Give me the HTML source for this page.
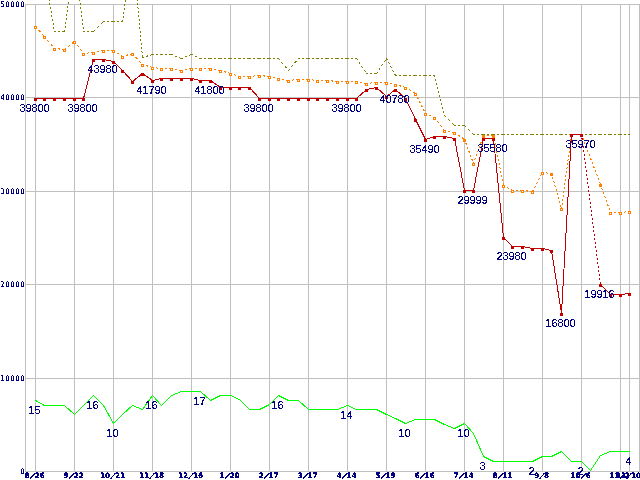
<!DOCTYPE html>
<html><head><meta charset="utf-8"><style>
html,body{margin:0;padding:0;background:#fff;width:640px;height:480px;overflow:hidden}
svg{display:block}
</style></head><body>
<svg width="640" height="480" viewBox="0 0 640 480">
<defs><filter id="crisp" x="-5%" y="-20%" width="110%" height="140%"><feComponentTransfer><feFuncA type="discrete" tableValues="0 0 1 1 1"/></feComponentTransfer></filter><filter id="crisp2" x="-5%" y="-20%" width="110%" height="140%"><feComponentTransfer><feFuncA type="discrete" tableValues="0 0 0 1 1 1 1 1"/></feComponentTransfer></filter><filter id="crisp3" x="-5%" y="-20%" width="110%" height="140%"><feComponentTransfer><feFuncA type="discrete" tableValues="0 1 1 1"/></feComponentTransfer></filter></defs>
<rect width="640" height="480" fill="#fff"/>
<g stroke="#c0c0c0" stroke-width="1"><line x1="25.5" y1="4" x2="25.5" y2="472" /><line x1="35.5" y1="4" x2="35.5" y2="472" /><line x1="74.5" y1="4" x2="74.5" y2="472" /><line x1="113.5" y1="4" x2="113.5" y2="472" /><line x1="152.5" y1="4" x2="152.5" y2="472" /><line x1="191.5" y1="4" x2="191.5" y2="472" /><line x1="230.5" y1="4" x2="230.5" y2="472" /><line x1="269.5" y1="4" x2="269.5" y2="472" /><line x1="308.5" y1="4" x2="308.5" y2="472" /><line x1="347.5" y1="4" x2="347.5" y2="472" /><line x1="386.5" y1="4" x2="386.5" y2="472" /><line x1="425.5" y1="4" x2="425.5" y2="472" /><line x1="464.5" y1="4" x2="464.5" y2="472" /><line x1="503.5" y1="4" x2="503.5" y2="472" /><line x1="542.5" y1="4" x2="542.5" y2="472" /><line x1="581.5" y1="4" x2="581.5" y2="472" /><line x1="620.5" y1="4" x2="620.5" y2="472" /><line x1="629.5" y1="4" x2="629.5" y2="472" /><line x1="639.5" y1="4" x2="639.5" y2="472" /><line x1="25" y1="4.5" x2="640" y2="4.5" /><line x1="25" y1="97.5" x2="640" y2="97.5" /><line x1="25" y1="191.5" x2="640" y2="191.5" /><line x1="25" y1="284.5" x2="640" y2="284.5" /><line x1="25" y1="378.5" x2="640" y2="378.5" /><line x1="25" y1="471.5" x2="640" y2="471.5" /></g>
<g shape-rendering="crispEdges"><g stroke-width="1"><line x1="35.000" y1="-29.556" x2="45.000" y2="-28.444" stroke="#808000" stroke-dasharray="2.0123 2.0123" /><line x1="44.417" y1="-29.000" x2="54.583" y2="32.000" stroke="#808000" stroke-dasharray="2.0276 2.0276" /><line x1="54.000" y1="31.500" x2="65.000" y2="31.500" stroke="#808000" stroke-dasharray="2.0000 2.0000" /><line x1="64.434" y1="32.000" x2="74.566" y2="-45.000" stroke="#808000" stroke-dasharray="2.0172 2.0172" /><line x1="74.441" y1="-45.000" x2="83.559" y2="32.000" stroke="#808000" stroke-dasharray="2.0140 2.0140" /><line x1="83.000" y1="31.500" x2="94.000" y2="31.500" stroke="#808000" stroke-dasharray="2.0000 2.0000" /><line x1="93.000" y1="32.000" x2="104.000" y2="21.000" stroke="#808000" stroke-dasharray="2.8284 2.8284" /><line x1="103.000" y1="21.500" x2="114.000" y2="21.500" stroke="#808000" stroke-dasharray="2.0000 2.0000" /><line x1="113.000" y1="21.500" x2="123.000" y2="21.500" stroke="#808000" stroke-dasharray="2.0000 2.0000" /><line x1="122.432" y1="22.000" x2="132.568" y2="-53.000" stroke="#808000" stroke-dasharray="2.0182 2.0182" /><line x1="132.455" y1="-53.000" x2="142.545" y2="58.000" stroke="#808000" stroke-dasharray="2.0082 2.0082" /><line x1="142.000" y1="57.650" x2="153.000" y2="54.350" stroke="#808000" stroke-dasharray="2.0881 2.0881" /><line x1="152.000" y1="54.500" x2="162.000" y2="54.500" stroke="#808000" stroke-dasharray="2.0000 2.0000" /><line x1="161.000" y1="54.500" x2="172.000" y2="54.500" stroke="#808000" stroke-dasharray="2.0000 2.0000" /><line x1="171.000" y1="54.300" x2="182.000" y2="58.700" stroke="#808000" stroke-dasharray="2.1541 2.1541" /><line x1="181.000" y1="58.700" x2="192.000" y2="54.300" stroke="#808000" stroke-dasharray="2.1541 2.1541" /><line x1="191.000" y1="54.278" x2="201.000" y2="58.722" stroke="#808000" stroke-dasharray="2.1886 2.1886" /><line x1="200.000" y1="58.500" x2="211.000" y2="58.500" stroke="#808000" stroke-dasharray="2.0000 2.0000" /><line x1="210.000" y1="58.500" x2="221.000" y2="58.500" stroke="#808000" stroke-dasharray="2.0000 2.0000" /><line x1="220.000" y1="58.500" x2="231.000" y2="58.500" stroke="#808000" stroke-dasharray="2.0000 2.0000" /><line x1="230.000" y1="58.500" x2="240.000" y2="58.500" stroke="#808000" stroke-dasharray="2.0000 2.0000" /><line x1="239.000" y1="58.500" x2="250.000" y2="58.500" stroke="#808000" stroke-dasharray="2.0000 2.0000" /><line x1="249.000" y1="58.500" x2="260.000" y2="58.500" stroke="#808000" stroke-dasharray="2.0000 2.0000" /><line x1="259.000" y1="58.500" x2="270.000" y2="58.500" stroke="#808000" stroke-dasharray="2.0000 2.0000" /><line x1="269.000" y1="58.500" x2="279.000" y2="58.500" stroke="#808000" stroke-dasharray="2.0000 2.0000" /><line x1="278.083" y1="58.000" x2="288.917" y2="71.000" stroke="#808000" stroke-dasharray="2.6034 2.6034" /><line x1="288.083" y1="71.000" x2="298.917" y2="58.000" stroke="#808000" stroke-dasharray="2.6034 2.6034" /><line x1="298.000" y1="58.500" x2="309.000" y2="58.500" stroke="#808000" stroke-dasharray="2.0000 2.0000" /><line x1="308.000" y1="58.500" x2="318.000" y2="58.500" stroke="#808000" stroke-dasharray="2.0000 2.0000" /><line x1="317.000" y1="58.500" x2="328.000" y2="58.500" stroke="#808000" stroke-dasharray="2.0000 2.0000" /><line x1="327.000" y1="58.500" x2="338.000" y2="58.500" stroke="#808000" stroke-dasharray="2.0000 2.0000" /><line x1="337.000" y1="58.500" x2="348.000" y2="58.500" stroke="#808000" stroke-dasharray="2.0000 2.0000" /><line x1="347.000" y1="58.500" x2="357.000" y2="58.500" stroke="#808000" stroke-dasharray="2.0000 2.0000" /><line x1="356.167" y1="58.000" x2="366.833" y2="74.000" stroke="#808000" stroke-dasharray="2.4037 2.4037" /><line x1="366.000" y1="73.500" x2="377.000" y2="73.500" stroke="#808000" stroke-dasharray="2.0000 2.0000" /><line x1="376.167" y1="74.000" x2="386.833" y2="58.000" stroke="#808000" stroke-dasharray="2.4037 2.4037" /><line x1="386.235" y1="58.000" x2="395.765" y2="76.000" stroke="#808000" stroke-dasharray="2.2630 2.2630" /><line x1="395.000" y1="75.500" x2="406.000" y2="75.500" stroke="#808000" stroke-dasharray="2.0000 2.0000" /><line x1="405.000" y1="75.500" x2="416.000" y2="75.500" stroke="#808000" stroke-dasharray="2.0000 2.0000" /><line x1="415.000" y1="75.500" x2="426.000" y2="75.500" stroke="#808000" stroke-dasharray="2.0000 2.0000" /><line x1="425.000" y1="75.500" x2="435.000" y2="75.500" stroke="#808000" stroke-dasharray="2.0000 2.0000" /><line x1="434.375" y1="75.000" x2="444.625" y2="116.000" stroke="#808000" stroke-dasharray="2.0616 2.0616" /><line x1="444.000" y1="115.000" x2="455.000" y2="126.000" stroke="#808000" stroke-dasharray="2.8284 2.8284" /><line x1="454.000" y1="125.500" x2="465.000" y2="125.500" stroke="#808000" stroke-dasharray="2.0000 2.0000" /><line x1="464.000" y1="125.000" x2="474.000" y2="135.000" stroke="#808000" stroke-dasharray="2.8284 2.8284" /><line x1="473.000" y1="134.500" x2="484.000" y2="134.500" stroke="#808000" stroke-dasharray="2.0000 2.0000" /><line x1="483.000" y1="134.500" x2="494.000" y2="134.500" stroke="#808000" stroke-dasharray="2.0000 2.0000" /><line x1="493.000" y1="134.500" x2="504.000" y2="134.500" stroke="#808000" stroke-dasharray="2.0000 2.0000" /><line x1="503.000" y1="134.500" x2="513.000" y2="134.500" stroke="#808000" stroke-dasharray="2.0000 2.0000" /><line x1="512.000" y1="134.500" x2="523.000" y2="134.500" stroke="#808000" stroke-dasharray="2.0000 2.0000" /><line x1="522.000" y1="134.500" x2="533.000" y2="134.500" stroke="#808000" stroke-dasharray="2.0000 2.0000" /><line x1="532.000" y1="134.500" x2="543.000" y2="134.500" stroke="#808000" stroke-dasharray="2.0000 2.0000" /><line x1="542.000" y1="134.500" x2="552.000" y2="134.500" stroke="#808000" stroke-dasharray="2.0000 2.0000" /><line x1="551.000" y1="134.500" x2="562.000" y2="134.500" stroke="#808000" stroke-dasharray="2.0000 2.0000" /><line x1="561.000" y1="134.500" x2="572.000" y2="134.500" stroke="#808000" stroke-dasharray="2.0000 2.0000" /><line x1="571.000" y1="134.500" x2="582.000" y2="134.500" stroke="#808000" stroke-dasharray="2.0000 2.0000" /><line x1="581.000" y1="134.500" x2="591.000" y2="134.500" stroke="#808000" stroke-dasharray="2.0000 2.0000" /><line x1="590.000" y1="134.500" x2="601.000" y2="134.500" stroke="#808000" stroke-dasharray="2.0000 2.0000" /><line x1="600.000" y1="134.500" x2="611.000" y2="134.500" stroke="#808000" stroke-dasharray="2.0000 2.0000" /><line x1="610.000" y1="134.500" x2="621.000" y2="134.500" stroke="#808000" stroke-dasharray="2.0000 2.0000" /><line x1="620.000" y1="134.500" x2="630.000" y2="134.500" stroke="#808000" stroke-dasharray="2.0000 2.0000" /></g><g stroke-width="1"><line x1="35.050" y1="26.000" x2="44.950" y2="37.000" stroke="#ff8000" stroke-dasharray="2.6907 2.6907" /><line x1="44.083" y1="36.000" x2="54.917" y2="49.000" stroke="#ff8000" stroke-dasharray="2.6034 2.6034" /><line x1="54.000" y1="48.450" x2="65.000" y2="49.550" stroke="#ff8000" stroke-dasharray="2.0100 2.0100" /><line x1="64.000" y1="49.900" x2="75.000" y2="41.100" stroke="#ff8000" stroke-dasharray="2.5612 2.5612" /><line x1="74.125" y1="41.000" x2="83.875" y2="54.000" stroke="#ff8000" stroke-dasharray="2.5000 2.5000" /><line x1="83.000" y1="53.550" x2="94.000" y2="52.450" stroke="#ff8000" stroke-dasharray="2.0100 2.0100" /><line x1="93.000" y1="52.600" x2="104.000" y2="50.400" stroke="#ff8000" stroke-dasharray="2.0396 2.0396" /><line x1="103.000" y1="50.500" x2="114.000" y2="50.500" stroke="#ff8000" stroke-dasharray="2.0000 2.0000" /><line x1="113.000" y1="50.167" x2="123.000" y2="56.833" stroke="#ff8000" stroke-dasharray="2.4037 2.4037" /><line x1="122.000" y1="56.650" x2="133.000" y2="53.350" stroke="#ff8000" stroke-dasharray="2.0881 2.0881" /><line x1="132.045" y1="53.000" x2="142.955" y2="65.000" stroke="#ff8000" stroke-dasharray="2.7029 2.7029" /><line x1="142.000" y1="64.350" x2="153.000" y2="67.650" stroke="#ff8000" stroke-dasharray="2.0881 2.0881" /><line x1="152.000" y1="67.444" x2="162.000" y2="68.556" stroke="#ff8000" stroke-dasharray="2.0123 2.0123" /><line x1="161.000" y1="68.500" x2="172.000" y2="68.500" stroke="#ff8000" stroke-dasharray="2.0000 2.0000" /><line x1="171.000" y1="68.400" x2="182.000" y2="70.600" stroke="#ff8000" stroke-dasharray="2.0396 2.0396" /><line x1="181.000" y1="70.600" x2="192.000" y2="68.400" stroke="#ff8000" stroke-dasharray="2.0396 2.0396" /><line x1="191.000" y1="68.500" x2="201.000" y2="68.500" stroke="#ff8000" stroke-dasharray="2.0000 2.0000" /><line x1="200.000" y1="68.500" x2="211.000" y2="68.500" stroke="#ff8000" stroke-dasharray="2.0000 2.0000" /><line x1="210.000" y1="68.400" x2="221.000" y2="70.600" stroke="#ff8000" stroke-dasharray="2.0396 2.0396" /><line x1="220.000" y1="70.350" x2="231.000" y2="73.650" stroke="#ff8000" stroke-dasharray="2.0881 2.0881" /><line x1="230.000" y1="73.333" x2="240.000" y2="76.667" stroke="#ff8000" stroke-dasharray="2.1082 2.1082" /><line x1="239.000" y1="76.500" x2="250.000" y2="76.500" stroke="#ff8000" stroke-dasharray="2.0000 2.0000" /><line x1="249.000" y1="76.550" x2="260.000" y2="75.450" stroke="#ff8000" stroke-dasharray="2.0100 2.0100" /><line x1="259.000" y1="75.450" x2="270.000" y2="76.550" stroke="#ff8000" stroke-dasharray="2.0100 2.0100" /><line x1="269.000" y1="76.389" x2="279.000" y2="78.611" stroke="#ff8000" stroke-dasharray="2.0488 2.0488" /><line x1="278.000" y1="78.400" x2="289.000" y2="80.600" stroke="#ff8000" stroke-dasharray="2.0396 2.0396" /><line x1="288.000" y1="80.550" x2="299.000" y2="79.450" stroke="#ff8000" stroke-dasharray="2.0100 2.0100" /><line x1="298.000" y1="79.500" x2="309.000" y2="79.500" stroke="#ff8000" stroke-dasharray="2.0000 2.0000" /><line x1="308.000" y1="79.444" x2="318.000" y2="80.556" stroke="#ff8000" stroke-dasharray="2.0123 2.0123" /><line x1="317.000" y1="80.500" x2="328.000" y2="80.500" stroke="#ff8000" stroke-dasharray="2.0000 2.0000" /><line x1="327.000" y1="80.450" x2="338.000" y2="81.550" stroke="#ff8000" stroke-dasharray="2.0100 2.0100" /><line x1="337.000" y1="81.500" x2="348.000" y2="81.500" stroke="#ff8000" stroke-dasharray="2.0000 2.0000" /><line x1="347.000" y1="81.500" x2="357.000" y2="81.500" stroke="#ff8000" stroke-dasharray="2.0000 2.0000" /><line x1="356.000" y1="81.400" x2="367.000" y2="83.600" stroke="#ff8000" stroke-dasharray="2.0396 2.0396" /><line x1="366.000" y1="83.550" x2="377.000" y2="82.450" stroke="#ff8000" stroke-dasharray="2.0100 2.0100" /><line x1="376.000" y1="82.500" x2="387.000" y2="82.500" stroke="#ff8000" stroke-dasharray="2.0000 2.0000" /><line x1="386.000" y1="82.389" x2="396.000" y2="84.611" stroke="#ff8000" stroke-dasharray="2.0488 2.0488" /><line x1="395.000" y1="84.350" x2="406.000" y2="87.650" stroke="#ff8000" stroke-dasharray="2.0881 2.0881" /><line x1="405.000" y1="87.200" x2="416.000" y2="93.800" stroke="#ff8000" stroke-dasharray="2.3324 2.3324" /><line x1="415.250" y1="93.000" x2="425.750" y2="114.000" stroke="#ff8000" stroke-dasharray="2.2361 2.2361" /><line x1="425.000" y1="113.278" x2="435.000" y2="117.722" stroke="#ff8000" stroke-dasharray="2.1886 2.1886" /><line x1="434.115" y1="117.000" x2="444.885" y2="131.000" stroke="#ff8000" stroke-dasharray="2.5233 2.5233" /><line x1="444.000" y1="130.400" x2="455.000" y2="132.600" stroke="#ff8000" stroke-dasharray="2.0396 2.0396" /><line x1="454.000" y1="132.150" x2="465.000" y2="139.850" stroke="#ff8000" stroke-dasharray="2.4413 2.4413" /><line x1="464.312" y1="139.000" x2="473.688" y2="164.000" stroke="#ff8000" stroke-dasharray="2.1360 2.1360" /><line x1="473.321" y1="164.000" x2="483.679" y2="135.000" stroke="#ff8000" stroke-dasharray="2.1237 2.1237" /><line x1="483.000" y1="135.500" x2="494.000" y2="135.500" stroke="#ff8000" stroke-dasharray="2.0000 2.0000" /><line x1="493.400" y1="135.000" x2="503.600" y2="186.000" stroke="#ff8000" stroke-dasharray="2.0396 2.0396" /><line x1="503.000" y1="185.222" x2="513.000" y2="190.778" stroke="#ff8000" stroke-dasharray="2.2879 2.2879" /><line x1="512.000" y1="190.500" x2="523.000" y2="190.500" stroke="#ff8000" stroke-dasharray="2.0000 2.0000" /><line x1="522.000" y1="190.450" x2="533.000" y2="191.550" stroke="#ff8000" stroke-dasharray="2.0100 2.0100" /><line x1="532.237" y1="192.000" x2="542.763" y2="172.000" stroke="#ff8000" stroke-dasharray="2.2601 2.2601" /><line x1="542.000" y1="172.444" x2="552.000" y2="173.556" stroke="#ff8000" stroke-dasharray="2.0123 2.0123" /><line x1="551.357" y1="173.000" x2="561.643" y2="209.000" stroke="#ff8000" stroke-dasharray="2.0800 2.0800" /><line x1="561.432" y1="209.000" x2="571.568" y2="134.000" stroke="#ff8000" stroke-dasharray="2.0182 2.0182" /><line x1="571.000" y1="134.500" x2="582.000" y2="134.500" stroke="#ff8000" stroke-dasharray="2.0000 2.0000" /><line x1="581.310" y1="134.000" x2="600.690" y2="185.000" stroke="#ff8000" stroke-dasharray="2.1395 2.1395" /><line x1="600.321" y1="184.000" x2="610.679" y2="213.000" stroke="#ff8000" stroke-dasharray="2.1237 2.1237" /><line x1="610.000" y1="212.500" x2="621.000" y2="212.500" stroke="#ff8000" stroke-dasharray="2.0000 2.0000" /><line x1="620.000" y1="212.556" x2="630.000" y2="211.444" stroke="#ff8000" stroke-dasharray="2.0123 2.0123" /></g><polyline points="35.5,98.5 44.5,98.5 54.5,98.5 64.5,98.5 74.5,98.5 83.5,98.5 93.5,59.5 103.5,59.5 113.5,61.5 122.5,70.5 132.5,81.5 142.5,73.5 152.5,80.5 161.5,78.5 171.5,78.5 181.5,78.5 191.5,78.5 200.5,80.5 210.5,80.5 220.5,87.5 230.5,87.5 239.5,87.5 249.5,87.5 259.5,98.5 269.5,98.5 278.5,98.5 288.5,98.5 298.5,98.5 308.5,98.5 317.5,98.5 327.5,98.5 337.5,98.5 347.5,98.5 356.5,98.5 366.5,89.5 376.5,87.5 386.5,96.5 395.5,89.5 405.5,98.5 415.5,119.5 425.5,139.5 434.5,136.5 444.5,136.5 454.5,138.5 464.5,190.5 473.5,190.5 483.5,138.5 493.5,138.5 503.5,237.5 512.5,246.5 522.5,246.5 532.5,248.5 542.5,248.5 551.5,250.5 561.5,313.5 571.5,134.5 581.5,134.5" fill="none" stroke="#c00000" stroke-width="1" /><polyline points="600.5,284.5 610.5,294.5 620.5,294.5 629.5,293.5" fill="none" stroke="#c00000" stroke-width="1" /><g stroke-width="1"><line x1="581.437" y1="134.000" x2="600.563" y2="285.000" stroke="#c00000" stroke-dasharray="2.0160 2.0160" /></g><polyline points="35.5,400.5 44.5,405.5 54.5,405.5 64.5,405.5 74.5,414.5 83.5,405.5 93.5,395.5 103.5,405.5 113.5,423.5 122.5,414.5 132.5,405.5 142.5,409.5 152.5,395.5 161.5,405.5 171.5,395.5 181.5,391.5 191.5,391.5 200.5,391.5 210.5,400.5 220.5,395.5 230.5,395.5 239.5,399.5 249.5,409.5 259.5,409.5 269.5,404.5 278.5,395.5 288.5,400.5 298.5,400.5 308.5,409.5 317.5,409.5 327.5,409.5 337.5,409.5 347.5,405.5 356.5,409.5 366.5,409.5 376.5,409.5 386.5,414.5 395.5,418.5 405.5,423.5 415.5,419.5 425.5,419.5 434.5,419.5 444.5,424.5 454.5,428.5 464.5,423.5 473.5,433.5 483.5,456.5 493.5,461.5 503.5,461.5 512.5,461.5 522.5,461.5 532.5,461.5 542.5,456.5 551.5,456.5 561.5,451.5 571.5,461.5 581.5,461.5 590.5,470.5 600.5,455.5 610.5,451.5 620.5,451.5 629.5,451.5" fill="none" stroke="#00ff00" stroke-width="1" /><rect x="34.5" y="26.5" width="2" height="2" fill="#fff" stroke="#ff8000" stroke-width="1" /><rect x="43.5" y="36.5" width="2" height="2" fill="#fff" stroke="#ff8000" stroke-width="1" /><rect x="53.5" y="48.5" width="2" height="2" fill="#fff" stroke="#ff8000" stroke-width="1" /><rect x="63.5" y="49.5" width="2" height="2" fill="#fff" stroke="#ff8000" stroke-width="1" /><rect x="73.5" y="41.5" width="2" height="2" fill="#fff" stroke="#ff8000" stroke-width="1" /><rect x="82.5" y="53.5" width="2" height="2" fill="#fff" stroke="#ff8000" stroke-width="1" /><rect x="92.5" y="52.5" width="2" height="2" fill="#fff" stroke="#ff8000" stroke-width="1" /><rect x="102.5" y="50.5" width="2" height="2" fill="#fff" stroke="#ff8000" stroke-width="1" /><rect x="112.5" y="50.5" width="2" height="2" fill="#fff" stroke="#ff8000" stroke-width="1" /><rect x="121.5" y="56.5" width="2" height="2" fill="#fff" stroke="#ff8000" stroke-width="1" /><rect x="131.5" y="53.5" width="2" height="2" fill="#fff" stroke="#ff8000" stroke-width="1" /><rect x="141.5" y="64.5" width="2" height="2" fill="#fff" stroke="#ff8000" stroke-width="1" /><rect x="151.5" y="67.5" width="2" height="2" fill="#fff" stroke="#ff8000" stroke-width="1" /><rect x="160.5" y="68.5" width="2" height="2" fill="#fff" stroke="#ff8000" stroke-width="1" /><rect x="170.5" y="68.5" width="2" height="2" fill="#fff" stroke="#ff8000" stroke-width="1" /><rect x="180.5" y="70.5" width="2" height="2" fill="#fff" stroke="#ff8000" stroke-width="1" /><rect x="190.5" y="68.5" width="2" height="2" fill="#fff" stroke="#ff8000" stroke-width="1" /><rect x="199.5" y="68.5" width="2" height="2" fill="#fff" stroke="#ff8000" stroke-width="1" /><rect x="209.5" y="68.5" width="2" height="2" fill="#fff" stroke="#ff8000" stroke-width="1" /><rect x="219.5" y="70.5" width="2" height="2" fill="#fff" stroke="#ff8000" stroke-width="1" /><rect x="229.5" y="73.5" width="2" height="2" fill="#fff" stroke="#ff8000" stroke-width="1" /><rect x="238.5" y="76.5" width="2" height="2" fill="#fff" stroke="#ff8000" stroke-width="1" /><rect x="248.5" y="76.5" width="2" height="2" fill="#fff" stroke="#ff8000" stroke-width="1" /><rect x="258.5" y="75.5" width="2" height="2" fill="#fff" stroke="#ff8000" stroke-width="1" /><rect x="268.5" y="76.5" width="2" height="2" fill="#fff" stroke="#ff8000" stroke-width="1" /><rect x="277.5" y="78.5" width="2" height="2" fill="#fff" stroke="#ff8000" stroke-width="1" /><rect x="287.5" y="80.5" width="2" height="2" fill="#fff" stroke="#ff8000" stroke-width="1" /><rect x="297.5" y="79.5" width="2" height="2" fill="#fff" stroke="#ff8000" stroke-width="1" /><rect x="307.5" y="79.5" width="2" height="2" fill="#fff" stroke="#ff8000" stroke-width="1" /><rect x="316.5" y="80.5" width="2" height="2" fill="#fff" stroke="#ff8000" stroke-width="1" /><rect x="326.5" y="80.5" width="2" height="2" fill="#fff" stroke="#ff8000" stroke-width="1" /><rect x="336.5" y="81.5" width="2" height="2" fill="#fff" stroke="#ff8000" stroke-width="1" /><rect x="346.5" y="81.5" width="2" height="2" fill="#fff" stroke="#ff8000" stroke-width="1" /><rect x="355.5" y="81.5" width="2" height="2" fill="#fff" stroke="#ff8000" stroke-width="1" /><rect x="365.5" y="83.5" width="2" height="2" fill="#fff" stroke="#ff8000" stroke-width="1" /><rect x="375.5" y="82.5" width="2" height="2" fill="#fff" stroke="#ff8000" stroke-width="1" /><rect x="385.5" y="82.5" width="2" height="2" fill="#fff" stroke="#ff8000" stroke-width="1" /><rect x="394.5" y="84.5" width="2" height="2" fill="#fff" stroke="#ff8000" stroke-width="1" /><rect x="404.5" y="87.5" width="2" height="2" fill="#fff" stroke="#ff8000" stroke-width="1" /><rect x="414.5" y="93.5" width="2" height="2" fill="#fff" stroke="#ff8000" stroke-width="1" /><rect x="424.5" y="113.5" width="2" height="2" fill="#fff" stroke="#ff8000" stroke-width="1" /><rect x="433.5" y="117.5" width="2" height="2" fill="#fff" stroke="#ff8000" stroke-width="1" /><rect x="443.5" y="130.5" width="2" height="2" fill="#fff" stroke="#ff8000" stroke-width="1" /><rect x="453.5" y="132.5" width="2" height="2" fill="#fff" stroke="#ff8000" stroke-width="1" /><rect x="463" y="139" width="3" height="3" fill="#ff8000" /><rect x="472.5" y="163.5" width="2" height="2" fill="#fff" stroke="#ff8000" stroke-width="1" /><rect x="482" y="135" width="3" height="3" fill="#ff8000" /><rect x="492" y="135" width="3" height="3" fill="#ff8000" /><rect x="502.5" y="185.5" width="2" height="2" fill="#fff" stroke="#ff8000" stroke-width="1" /><rect x="511.5" y="190.5" width="2" height="2" fill="#fff" stroke="#ff8000" stroke-width="1" /><rect x="521.5" y="190.5" width="2" height="2" fill="#fff" stroke="#ff8000" stroke-width="1" /><rect x="531.5" y="191.5" width="2" height="2" fill="#fff" stroke="#ff8000" stroke-width="1" /><rect x="541.5" y="172.5" width="2" height="2" fill="#fff" stroke="#ff8000" stroke-width="1" /><rect x="550" y="173" width="3" height="3" fill="#ff8000" /><rect x="560.5" y="208.5" width="2" height="2" fill="#fff" stroke="#ff8000" stroke-width="1" /><rect x="570.5" y="134.5" width="2" height="2" fill="#fff" stroke="#ff8000" stroke-width="1" /><rect x="580.5" y="134.5" width="2" height="2" fill="#fff" stroke="#ff8000" stroke-width="1" /><rect x="599" y="184" width="3" height="3" fill="#ff8000" /><rect x="609.5" y="212.5" width="2" height="2" fill="#fff" stroke="#ff8000" stroke-width="1" /><rect x="619.5" y="212.5" width="2" height="2" fill="#fff" stroke="#ff8000" stroke-width="1" /><rect x="628.5" y="211.5" width="2" height="2" fill="#fff" stroke="#ff8000" stroke-width="1" /><rect x="34" y="98" width="3" height="3" fill="#c00000" /><rect x="43" y="98" width="3" height="3" fill="#c00000" /><rect x="53" y="98" width="3" height="3" fill="#c00000" /><rect x="63" y="98" width="3" height="3" fill="#c00000" /><rect x="73" y="98" width="3" height="3" fill="#c00000" /><rect x="82" y="98" width="3" height="3" fill="#c00000" /><rect x="92" y="59" width="3" height="3" fill="#c00000" /><rect x="102" y="59" width="3" height="3" fill="#c00000" /><rect x="112" y="61" width="3" height="3" fill="#c00000" /><rect x="121" y="70" width="3" height="3" fill="#c00000" /><rect x="131" y="81" width="3" height="3" fill="#c00000" /><rect x="141" y="73" width="3" height="3" fill="#c00000" /><rect x="151" y="80" width="3" height="3" fill="#c00000" /><rect x="160" y="78" width="3" height="3" fill="#c00000" /><rect x="170" y="78" width="3" height="3" fill="#c00000" /><rect x="180" y="78" width="3" height="3" fill="#c00000" /><rect x="190" y="78" width="3" height="3" fill="#c00000" /><rect x="199" y="80" width="3" height="3" fill="#c00000" /><rect x="209" y="80" width="3" height="3" fill="#c00000" /><rect x="219" y="87" width="3" height="3" fill="#c00000" /><rect x="229" y="87" width="3" height="3" fill="#c00000" /><rect x="238" y="87" width="3" height="3" fill="#c00000" /><rect x="248" y="87" width="3" height="3" fill="#c00000" /><rect x="258" y="98" width="3" height="3" fill="#c00000" /><rect x="268" y="98" width="3" height="3" fill="#c00000" /><rect x="277" y="98" width="3" height="3" fill="#c00000" /><rect x="287" y="98" width="3" height="3" fill="#c00000" /><rect x="297" y="98" width="3" height="3" fill="#c00000" /><rect x="307" y="98" width="3" height="3" fill="#c00000" /><rect x="316" y="98" width="3" height="3" fill="#c00000" /><rect x="326" y="98" width="3" height="3" fill="#c00000" /><rect x="336" y="98" width="3" height="3" fill="#c00000" /><rect x="346" y="98" width="3" height="3" fill="#c00000" /><rect x="355" y="98" width="3" height="3" fill="#c00000" /><rect x="365" y="89" width="3" height="3" fill="#c00000" /><rect x="375" y="87" width="3" height="3" fill="#c00000" /><rect x="385" y="96" width="3" height="3" fill="#c00000" /><rect x="394" y="89" width="3" height="3" fill="#c00000" /><rect x="404" y="98" width="3" height="3" fill="#c00000" /><rect x="414" y="119" width="3" height="3" fill="#c00000" /><rect x="424" y="139" width="3" height="3" fill="#c00000" /><rect x="433" y="136" width="3" height="3" fill="#c00000" /><rect x="443" y="136" width="3" height="3" fill="#c00000" /><rect x="453" y="138" width="3" height="3" fill="#c00000" /><rect x="463" y="190" width="3" height="3" fill="#c00000" /><rect x="472" y="190" width="3" height="3" fill="#c00000" /><rect x="482" y="138" width="3" height="3" fill="#c00000" /><rect x="492" y="138" width="3" height="3" fill="#c00000" /><rect x="502" y="237" width="3" height="3" fill="#c00000" /><rect x="511" y="246" width="3" height="3" fill="#c00000" /><rect x="521" y="246" width="3" height="3" fill="#c00000" /><rect x="531" y="248" width="3" height="3" fill="#c00000" /><rect x="541" y="248" width="3" height="3" fill="#c00000" /><rect x="550" y="250" width="3" height="3" fill="#c00000" /><rect x="560" y="313" width="3" height="3" fill="#c00000" /><rect x="570" y="134" width="3" height="3" fill="#c00000" /><rect x="580" y="134" width="3" height="3" fill="#c00000" /><rect x="599" y="284" width="3" height="3" fill="#c00000" /><rect x="609" y="294" width="3" height="3" fill="#c00000" /><rect x="619" y="294" width="3" height="3" fill="#c00000" /><rect x="628" y="293" width="3" height="3" fill="#c00000" /></g>
<g font-family="Liberation Sans, sans-serif" font-size="11" letter-spacing="-0.116" fill="#000080" filter="url(#crisp2)"><text x="34.5" y="112" text-anchor="middle">39800</text><text x="82.5" y="112" text-anchor="middle">39800</text><text x="102.5" y="73" text-anchor="middle">43980</text><text x="151.5" y="94" text-anchor="middle">41790</text><text x="209.5" y="94" text-anchor="middle">41800</text><text x="258.5" y="112" text-anchor="middle">39800</text><text x="346.5" y="112" text-anchor="middle">39800</text><text x="394.5" y="103" text-anchor="middle">40780</text><text x="424.5" y="153" text-anchor="middle">35490</text><text x="472.5" y="204" text-anchor="middle">29999</text><text x="492.5" y="152" text-anchor="middle">35580</text><text x="511.5" y="260" text-anchor="middle">23980</text><text x="560.5" y="327" text-anchor="middle">16800</text><text x="580.5" y="148" text-anchor="middle">35970</text><text x="599.5" y="298" text-anchor="middle">19916</text><text x="34.5" y="414" text-anchor="middle">15</text><text x="92.5" y="409" text-anchor="middle">16</text><text x="112.5" y="437" text-anchor="middle">10</text><text x="151.5" y="409" text-anchor="middle">16</text><text x="199.5" y="405" text-anchor="middle">17</text><text x="277.5" y="409" text-anchor="middle">16</text><text x="346.5" y="419" text-anchor="middle">14</text><text x="404.5" y="437" text-anchor="middle">10</text><text x="463.5" y="437" text-anchor="middle">10</text><text x="482.5" y="470" text-anchor="middle">3</text><text x="531.5" y="475" text-anchor="middle">2</text><text x="580.5" y="475" text-anchor="middle">2</text><text x="628.5" y="465" text-anchor="middle">4</text></g>
<g font-family="DejaVu Sans Condensed, DejaVu Sans, sans-serif" font-size="7.8" fill="#000080" filter="url(#crisp)"><text x="2.5 7.5 12.5 17.5 22.5" y="7" text-anchor="middle">50000</text><text x="2.5 7.5 12.5 17.5 22.5" y="100" text-anchor="middle">40000</text><text x="2.5 7.5 12.5 17.5 22.5" y="194" text-anchor="middle">30000</text><text x="2.5 7.5 12.5 17.5 22.5" y="287" text-anchor="middle">20000</text><text x="2.5 7.5 12.5 17.5 22.5" y="381" text-anchor="middle">10000</text><text x="22.5" y="474" text-anchor="middle">0</text></g><g font-family="DejaVu Sans Condensed, DejaVu Sans, sans-serif" font-size="7.5" font-weight="bold" fill="#000080" filter="url(#crisp3)"><text y="478" text-anchor="middle"><tspan x="27">8</tspan><tspan x="31.5" font-size="8.5" rotate="25">/</tspan><tspan x="37">2</tspan><tspan x="42">6</tspan></text><text y="478" text-anchor="middle"><tspan x="66">9</tspan><tspan x="70.5" font-size="8.5" rotate="25">/</tspan><tspan x="76">2</tspan><tspan x="81">2</tspan></text><text y="478" text-anchor="middle"><tspan x="102.5">1</tspan><tspan x="107.5">0</tspan><tspan x="112" font-size="8.5" rotate="25">/</tspan><tspan x="117.5">2</tspan><tspan x="122.5">1</tspan></text><text y="478" text-anchor="middle"><tspan x="141.5">1</tspan><tspan x="146.5">1</tspan><tspan x="151" font-size="8.5" rotate="25">/</tspan><tspan x="156.5">1</tspan><tspan x="161.5">8</tspan></text><text y="478" text-anchor="middle"><tspan x="180.5">1</tspan><tspan x="185.5">2</tspan><tspan x="190" font-size="8.5" rotate="25">/</tspan><tspan x="195.5">1</tspan><tspan x="200.5">6</tspan></text><text y="478" text-anchor="middle"><tspan x="222">1</tspan><tspan x="226.5" font-size="8.5" rotate="25">/</tspan><tspan x="232">2</tspan><tspan x="237">0</tspan></text><text y="478" text-anchor="middle"><tspan x="261">2</tspan><tspan x="265.5" font-size="8.5" rotate="25">/</tspan><tspan x="271">1</tspan><tspan x="276">7</tspan></text><text y="478" text-anchor="middle"><tspan x="300">3</tspan><tspan x="304.5" font-size="8.5" rotate="25">/</tspan><tspan x="310">1</tspan><tspan x="315">7</tspan></text><text y="478" text-anchor="middle"><tspan x="339">4</tspan><tspan x="343.5" font-size="8.5" rotate="25">/</tspan><tspan x="349">1</tspan><tspan x="354">4</tspan></text><text y="478" text-anchor="middle"><tspan x="378">5</tspan><tspan x="382.5" font-size="8.5" rotate="25">/</tspan><tspan x="388">1</tspan><tspan x="393">9</tspan></text><text y="478" text-anchor="middle"><tspan x="417">6</tspan><tspan x="421.5" font-size="8.5" rotate="25">/</tspan><tspan x="427">1</tspan><tspan x="432">6</tspan></text><text y="478" text-anchor="middle"><tspan x="456">7</tspan><tspan x="460.5" font-size="8.5" rotate="25">/</tspan><tspan x="466">1</tspan><tspan x="471">4</tspan></text><text y="478" text-anchor="middle"><tspan x="495">8</tspan><tspan x="499.5" font-size="8.5" rotate="25">/</tspan><tspan x="505">1</tspan><tspan x="510">1</tspan></text><text y="478" text-anchor="middle"><tspan x="536.5">9</tspan><tspan x="541" font-size="8.5" rotate="25">/</tspan><tspan x="546.5">8</tspan></text><text y="478" text-anchor="middle"><tspan x="573">1</tspan><tspan x="578">0</tspan><tspan x="582.5" font-size="8.5" rotate="25">/</tspan><tspan x="588">6</tspan></text><text y="478" text-anchor="middle"><tspan x="612">1</tspan><tspan x="617">1</tspan><tspan x="621.5" font-size="8.5" rotate="25">/</tspan><tspan x="627">2</tspan></text><text y="478" text-anchor="middle"><tspan x="618.5">1</tspan><tspan x="623.5">1</tspan><tspan x="628" font-size="8.5" rotate="25">/</tspan><tspan x="633.5">1</tspan><tspan x="638.5">0</tspan></text></g>
</svg>
</body></html>
